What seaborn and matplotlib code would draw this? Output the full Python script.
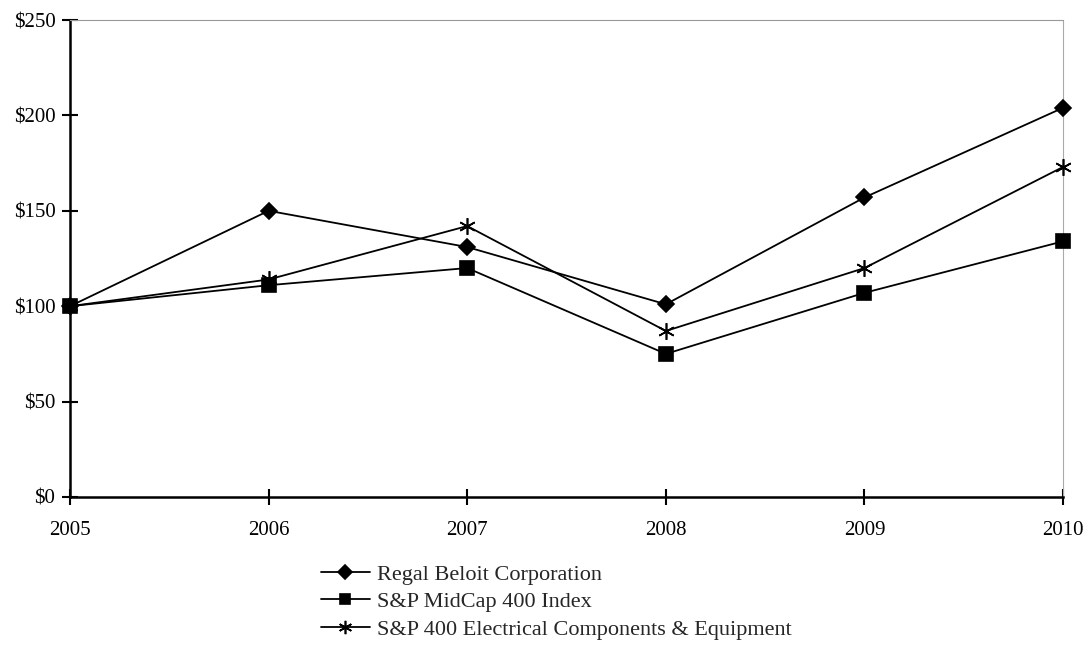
import matplotlib
matplotlib.use("Agg")
import matplotlib.pyplot as plt
import seaborn as sns
import pandas as pd

years = [2005, 2006, 2007, 2008, 2009, 2010]
regal = [100, 150, 131, 101, 157, 204]
midcap = [100, 111, 120, 75, 107, 134]
electrical = [100, 114, 142, 87, 120, 173]
series_names = ["Regal Beloit Corporation", "S&P MidCap 400 Index",
                "S&P 400 Electrical Components & Equipment"]
y_ticks = [0, 50, 100, 150, 200, 250]

sns.set_style("white")
plt.rcParams['font.family'] = ['Liberation Serif', 'DejaVu Serif']

df = pd.concat([
    pd.DataFrame({"year": years, "value": regal, "series": series_names[0]}),
    pd.DataFrame({"year": years, "value": midcap, "series": series_names[1]}),
    pd.DataFrame({"year": years, "value": electrical, "series": series_names[2]}),
])

fig = plt.figure(figsize=(10.87, 6.46), dpi=100)
ax = fig.add_axes([0.0644, 0.2307, 0.9136, 0.7383])

markers = {series_names[0]: "D", series_names[1]: "s", series_names[2]: (6, 2, 0)}
sizes = {series_names[0]: 8.5, series_names[1]: 9.5, series_names[2]: 12}
for name in series_names:
    sub = df[df["series"] == name]
    sns.lineplot(data=sub, x="year", y="value", ax=ax, color="black", lw=1.3,
                 marker=markers[name], markersize=sizes[name], markeredgewidth=1.2,
                 markeredgecolor="black", markerfacecolor="black", label=name,
                 legend=False, clip_on=False, zorder=5)

ax.set_xlim(2005, 2010)
ax.set_ylim(0, 250)
ax.set_xticks(years)
ax.set_xticklabels([str(y) for y in years])
ax.set_yticks(y_ticks)
ax.set_yticklabels([f"${v}" for v in y_ticks])
ax.set_xlabel("")
ax.set_ylabel("")
ax.tick_params(axis="both", direction="inout", length=11, width=1.5, labelsize=15,
               colors="black", left=True, bottom=True)
ax.tick_params(axis="y", pad=5)
ax.tick_params(axis="x", pad=12)
for s in ["left", "bottom"]:
    ax.spines[s].set_color("black")
    ax.spines[s].set_linewidth(1.8)
ax.spines["top"].set_color("#999999")
ax.spines["top"].set_linewidth(0.8)
ax.spines["right"].set_color("#aaaaaa")
ax.spines["right"].set_linewidth(0.8)
ax.spines["right"].set_linestyle((0, (4, 1)))

handles, labels = ax.get_legend_handles_labels()
leg = fig.legend(handles, labels, loc="upper left",
                 bbox_to_anchor=(321 / 1087, 1 - 564 / 646),
                 bbox_transform=fig.transFigure, frameon=False, fontsize=16,
                 handlelength=2.2, handletextpad=0.3, labelspacing=0.32,
                 borderaxespad=0, borderpad=0, markerscale=0.8)

fig.savefig("out.png", dpi=100)
